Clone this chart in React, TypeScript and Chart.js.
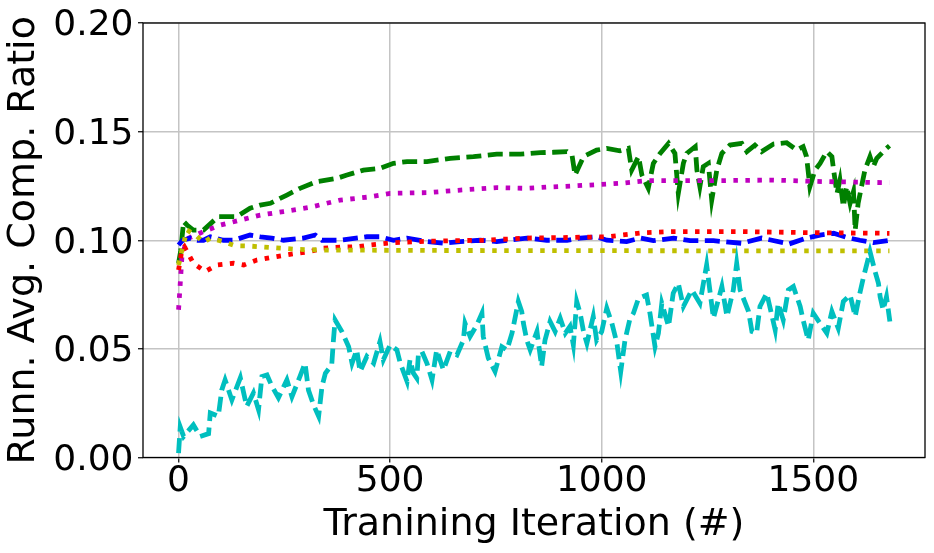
import React, { useEffect, useRef } from "react";
import { Chart, registerables } from "chart.js";

Chart.register(...registerables);

// ---- data ----
const xTicks = [0, 500, 1000, 1500];
const yTicks = [0, 0.05, 0.1, 0.15, 0.2];

const greenX = [0, 5, 12, 20, 35, 59, 94, 138, 169, 193, 217, 256, 287, 327, 374, 398, 437, 476, 508, 540, 587, 642, 697, 752, 808, 855, 886, 918, 930, 937, 957, 988, 1012, 1043, 1063, 1071, 1087, 1095, 1110, 1122, 1138, 1158, 1173, 1181, 1193, 1201, 1221, 1225, 1232, 1240, 1252, 1260, 1272, 1284, 1303, 1331, 1343, 1362, 1378, 1406, 1437, 1461, 1476, 1484, 1492, 1504, 1516, 1532, 1544, 1548, 1556, 1563, 1571, 1579, 1587, 1595, 1599, 1606, 1614, 1622, 1634, 1642, 1650, 1673, 1680];
const greenY = [0.0894, 0.095, 0.1086, 0.107, 0.1047, 0.1047, 0.1109, 0.1109, 0.1147, 0.1162, 0.117, 0.1208, 0.1239, 0.127, 0.1285, 0.13, 0.1323, 0.1331, 0.1354, 0.1362, 0.1362, 0.1377, 0.1385, 0.1396, 0.1396, 0.1403, 0.1405, 0.1408, 0.139, 0.13, 0.1385, 0.1415, 0.1423, 0.1412, 0.1423, 0.1323, 0.1385, 0.13, 0.1239, 0.1354, 0.14, 0.1446, 0.14, 0.1216, 0.1354, 0.14, 0.1431, 0.1323, 0.1247, 0.1339, 0.1354, 0.1185, 0.1323, 0.14, 0.1438, 0.1446, 0.1408, 0.1438, 0.1408, 0.1443, 0.1449, 0.1415, 0.1431, 0.1385, 0.1247, 0.1323, 0.1354, 0.1408, 0.1385, 0.1323, 0.1216, 0.1277, 0.1155, 0.1247, 0.117, 0.1224, 0.1047, 0.117, 0.1247, 0.1323, 0.1385, 0.1339, 0.1377, 0.1423, 0.1435];

const magentaX = [0, 4, 8, 16, 24, 59, 99, 146, 193, 248, 311, 382, 445, 500, 587, 666, 752, 823, 874, 933, 1043, 1106, 1248, 1406, 1524, 1680];
const magentaY = [0.068, 0.08, 0.0925, 0.098, 0.101, 0.104, 0.107, 0.1093, 0.1116, 0.1132, 0.1152, 0.1185, 0.1198, 0.1216, 0.1219, 0.1231, 0.1242, 0.1239, 0.1245, 0.125, 0.1262, 0.1274, 0.1274, 0.1277, 0.127, 0.1265];

const blueX = [0, 10, 28, 45, 59, 75, 106, 130, 169, 193, 220, 248, 295, 323, 339, 382, 445, 476, 508, 540, 587, 626, 666, 713, 752, 823, 870, 918, 949, 988, 1012, 1059, 1091, 1122, 1170, 1209, 1264, 1331, 1378, 1443, 1484, 1516, 1548, 1579, 1610, 1642, 1680];
const blueY = [0.0978, 0.1, 0.101, 0.1, 0.1, 0.1016, 0.1, 0.1, 0.1024, 0.1016, 0.101, 0.1, 0.101, 0.1024, 0.1, 0.1, 0.1016, 0.1016, 0.1, 0.101, 0.0994, 0.0986, 0.0994, 0.1, 0.0994, 0.101, 0.1, 0.1, 0.101, 0.1016, 0.1, 0.0994, 0.101, 0.0998, 0.101, 0.0998, 0.0998, 0.0986, 0.101, 0.0983, 0.101, 0.1024, 0.1032, 0.1013, 0.1, 0.0989, 0.1];

const redX = [0, 8, 14, 35, 63, 91, 130, 154, 185, 232, 280, 311, 339, 382, 421, 453, 508, 571, 650, 720, 823, 900, 1012, 1100, 1170, 1331, 1484, 1680];
const redY = [0.0863, 0.0955, 0.097, 0.0894, 0.0856, 0.0886, 0.0894, 0.0886, 0.0909, 0.0925, 0.094, 0.0948, 0.0963, 0.0968, 0.097, 0.0978, 0.0989, 0.0994, 0.0998, 0.1, 0.101, 0.1012, 0.1016, 0.1035, 0.104, 0.104, 0.1035, 0.1032];

const yellowX = [0, 8, 20, 40, 59, 75, 106, 134, 161, 224, 280, 343, 600, 1000, 1400, 1680];
const yellowY = [0.0886, 0.0955, 0.1047, 0.1024, 0.099, 0.101, 0.0994, 0.0975, 0.0974, 0.0966, 0.0958, 0.0955, 0.0953, 0.0952, 0.0951, 0.0951];

const cyanX = [0, 4, 12, 35, 51, 71, 75, 94, 102, 110, 126, 146, 161, 177, 189, 197, 209, 221, 236, 256, 268, 287, 299, 307, 319, 331, 339, 347, 362, 366, 370, 386, 402, 410, 421, 429, 445, 461, 476, 484, 500, 516, 524, 540, 547, 555, 563, 567, 575, 587, 599, 610, 626, 642, 658, 673, 677, 689, 705, 717, 720, 732, 748, 764, 776, 788, 803, 811, 815, 823, 831, 847, 858, 866, 878, 890, 902, 914, 925, 933, 941, 949, 957, 965, 980, 988, 1000, 1012, 1024, 1036, 1045, 1055, 1067, 1075, 1087, 1106, 1114, 1126, 1134, 1142, 1158, 1169, 1181, 1193, 1213, 1232, 1248, 1264, 1284, 1296, 1311, 1319, 1327, 1347, 1355, 1366, 1374, 1390, 1410, 1417, 1429, 1441, 1453, 1469, 1476, 1488, 1500, 1516, 1532, 1544, 1559, 1571, 1587, 1599, 1610, 1618, 1634, 1646, 1654, 1658, 1665, 1673, 1681];
const cyanY = [0.002, 0.014, 0.0097, 0.015, 0.0097, 0.011, 0.0205, 0.019, 0.031, 0.0357, 0.0265, 0.0367, 0.0235, 0.0297, 0.022, 0.0373, 0.038, 0.0327, 0.0275, 0.0357, 0.028, 0.0373, 0.0434, 0.031, 0.0242, 0.019, 0.0327, 0.0388, 0.0426, 0.054, 0.0633, 0.058, 0.051, 0.0434, 0.0495, 0.0396, 0.0465, 0.0434, 0.0534, 0.045, 0.0518, 0.0495, 0.0434, 0.035, 0.045, 0.0388, 0.0365, 0.048, 0.0488, 0.0434, 0.0357, 0.0495, 0.0403, 0.0488, 0.0472, 0.054, 0.0618, 0.0557, 0.061, 0.0664, 0.0557, 0.0457, 0.0396, 0.051, 0.0495, 0.0572, 0.0718, 0.0672, 0.0618, 0.054, 0.0495, 0.058, 0.0419, 0.054, 0.0626, 0.058, 0.0641, 0.0572, 0.0603, 0.0518, 0.0718, 0.0664, 0.058, 0.0526, 0.0649, 0.054, 0.058, 0.0687, 0.0618, 0.0526, 0.0396, 0.054, 0.0641, 0.0664, 0.0733, 0.0748, 0.0664, 0.051, 0.0572, 0.071, 0.0603, 0.0756, 0.0802, 0.0695, 0.0771, 0.071, 0.0886, 0.0641, 0.0787, 0.0649, 0.0771, 0.0894, 0.0771, 0.0672, 0.058, 0.0572, 0.0695, 0.0756, 0.0587, 0.071, 0.0633, 0.0771, 0.0787, 0.0695, 0.0633, 0.054, 0.0664, 0.0618, 0.0572, 0.0672, 0.0595, 0.0718, 0.0748, 0.0649, 0.0756, 0.0825, 0.0948, 0.0856, 0.0802, 0.074, 0.0679, 0.074, 0.0626];

const xMin = -84;
const xMax = 1764;
const yMin = 0;
const yMax = 0.2;

const FONT = "'DejaVu Sans', 'Liberation Sans', sans-serif";
const DASH = [15, 6.5];
const DOT = [4.5, 7.5];
const LW = 4.8;

function pts(xs: number[], ys: number[]) {
  return xs.map((x, i) => ({ x, y: ys[i] }));
}

const frame = {
  id: "frame",
  afterDatasetsDraw(chart: any) {
    const { ctx, chartArea } = chart;
    ctx.save();
    ctx.strokeStyle = "#000";
    ctx.lineWidth = 1.3;
    ctx.strokeRect(chartArea.left, chartArea.top, chartArea.right - chartArea.left, chartArea.bottom - chartArea.top);
    ctx.restore();
  },
};

export default function App() {
  const ref = useRef<HTMLCanvasElement>(null);
  useEffect(() => {
    if (!ref.current) return;
    const mk = (label: string, xs: number[], ys: number[], color: string, dash: number[]) => ({
      label,
      data: pts(xs, ys),
      borderColor: color,
      backgroundColor: color,
      borderWidth: LW,
      borderDash: dash,
      borderCapStyle: "butt" as const,
      borderJoinStyle: "miter" as const,
      pointRadius: 0,
      tension: 0,
      fill: false,
    });
    const chart = new Chart(ref.current, {
      type: "line",
      data: {
        datasets: [
          mk("c", cyanX, cyanY, "#00bfbf", DASH),
          mk("y", yellowX, yellowY, "#bfbf00", DOT),
          mk("r", redX, redY, "#ff0000", DOT),
          mk("b", blueX, blueY, "#0000ff", DASH),
          mk("m", magentaX, magentaY, "#bf00bf", DOT),
          mk("g", greenX, greenY, "#008000", DASH),
        ],
      },
      options: {
        animation: false,
        responsive: false,
        devicePixelRatio: 1,
        layout: { padding: { top: 23, right: 9, left: 0, bottom: 0 } },
        plugins: { legend: { display: false }, tooltip: { enabled: false } },
        scales: {
          x: {
            type: "linear",
            min: xMin,
            max: xMax,
            afterBuildTicks: (s: any) => {
              s.ticks = xTicks.map((v) => ({ value: v }));
            },
            afterFit: (s: any) => {
              s.height = 95.5;
              s.paddingLeft = 0;
              s.paddingRight = 0;
            },
            grid: { color: "#c4c4c4", lineWidth: 1.5, tickColor: "#000", tickLength: 5, tickWidth: 1.2 },
            border: { display: false },
            ticks: {
              color: "#000",
              font: { family: FONT, size: 36 },
              padding: -2,
              maxRotation: 0,
              callback: (v: any) => String(v),
            },
            title: {
              display: true,
              text: "Tranining Iteration (#)",
              color: "#000",
              font: { family: FONT, size: 38 },
              padding: { top: 0, bottom: 5.5 },
            },
          },
          y: {
            type: "linear",
            min: yMin,
            max: yMax,
            afterBuildTicks: (s: any) => {
              s.ticks = yTicks.map((v) => ({ value: v }));
            },
            afterFit: (s: any) => {
              s.width = 143;
              s.paddingTop = 0;
              s.paddingBottom = 0;
            },
            grid: { color: "#c4c4c4", lineWidth: 1.5, tickColor: "#000", tickLength: 5, tickWidth: 1.2 },
            border: { display: false },
            ticks: {
              color: "#000",
              font: { family: FONT, size: 36 },
              padding: 4.5,
              labelOffset: 3,
              callback: (v: any) => Number(v).toFixed(2),
            },
            title: {
              display: true,
              text: "Runn. Avg. Comp. Ratio",
              color: "#000",
              font: { family: FONT, size: 38 },
              padding: { top: 1.4, bottom: 0 },
            },
          },
        },
      },
      plugins: [frame],
    });
    return () => chart.destroy();
  }, []);
  return (
    <div style={{ position: "fixed", left: 0, top: 0, width: 934, height: 553, background: "#fff" }}>
      <canvas ref={ref} width={934} height={553} style={{ display: "block" }} />
    </div>
  );
}
